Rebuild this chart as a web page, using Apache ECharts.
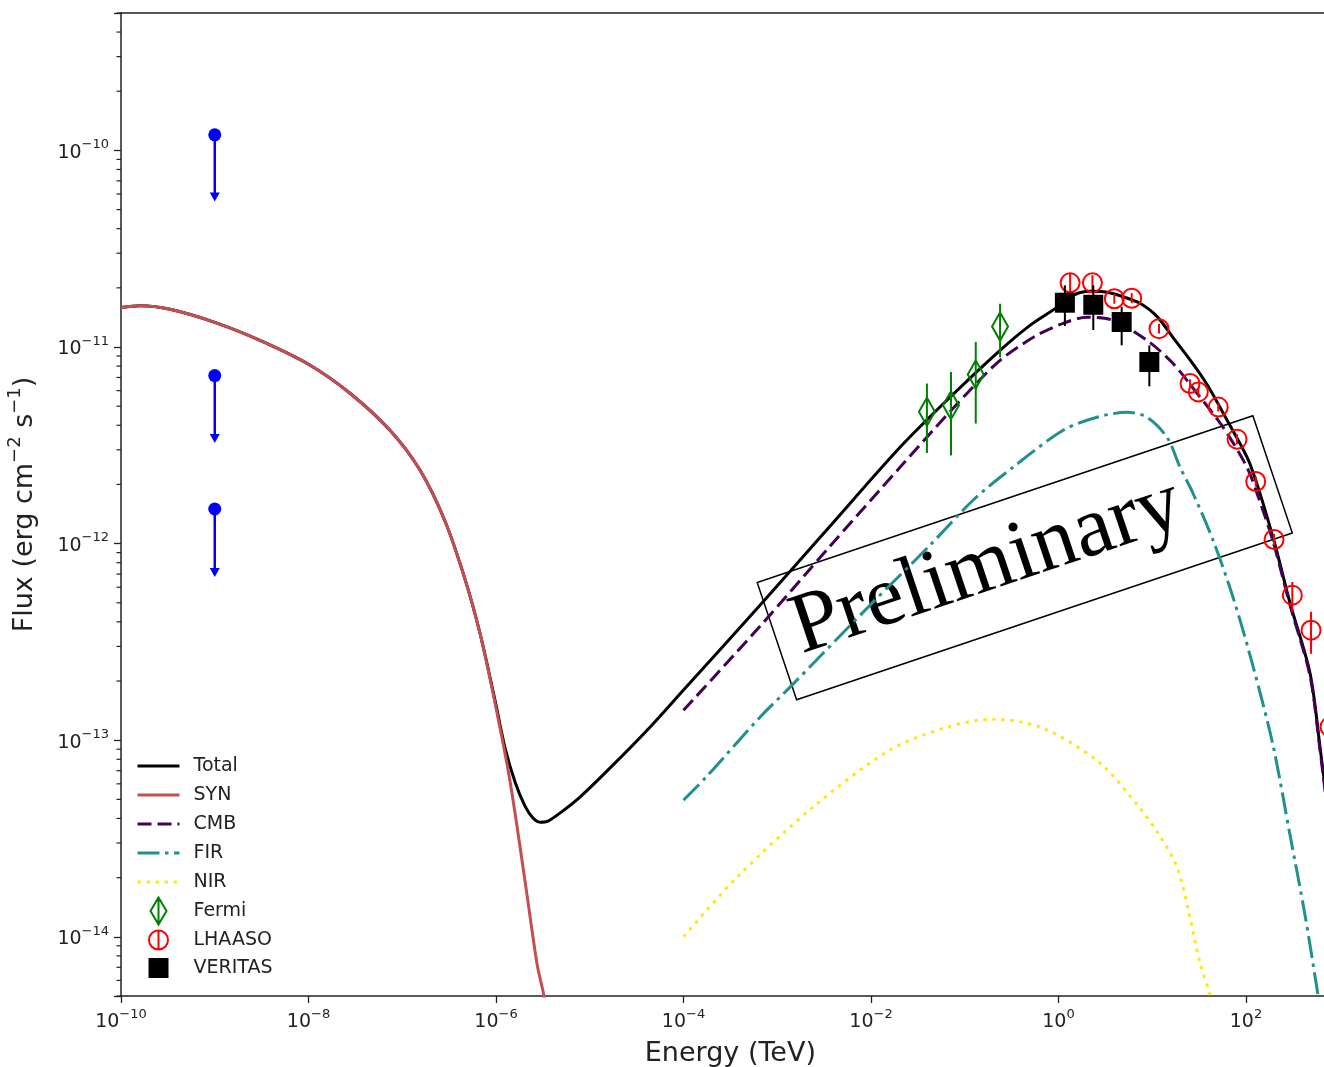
<!DOCTYPE html>
<html>
<head>
<meta charset="utf-8">
<script src="https://cdn.jsdelivr.net/npm/echarts@6/dist/echarts.min.js"></script>
<style>
  html, body { margin: 0; padding: 0; background: #ffffff; }
  #chart { width: 1324px; height: 1067px; }
</style>
</head>
<body>
<div id="chart"></div>
<script>
// ---- Model curves: [energy (TeV), E^2 dN/dE (erg cm^-2 s^-1)] ----
const synCurve = [
  [1e-10, 1.59e-11], [1.6e-10, 1.62e-11], [3.33e-10, 1.555e-11], [1e-9, 1.335e-11],
  [3.04e-9, 1.081e-11], [1e-8, 8.17e-12], [2.77e-8, 5.82e-12], [7.4e-8, 3.77e-12],
  [1.55e-7, 2.36e-12], [2.86e-7, 1.3e-12], [4.67e-7, 6.6e-13], [6.75e-7, 3.5e-13],
  [9.75e-7, 1.55e-13], [1.41e-6, 6.2e-14], [2.04e-6, 1.92e-14], [2.75e-6, 7.2e-15],
  [3.25e-6, 5.0e-15], [3.77e-6, 3.0e-15]
];
const totalCurve = [
  [1e-10, 1.59e-11], [1.6e-10, 1.62e-11], [3.33e-10, 1.555e-11], [1e-9, 1.335e-11],
  [3.04e-9, 1.081e-11], [1e-8, 8.17e-12], [2.77e-8, 5.82e-12], [7.4e-8, 3.77e-12],
  [1.55e-7, 2.36e-12], [2.86e-7, 1.3e-12], [4.67e-7, 6.6e-13], [6.75e-7, 3.5e-13],
  [9.75e-7, 1.6e-13], [1.25e-6, 9.12e-14], [1.6e-6, 6.12e-14], [2.04e-6, 4.62e-14],
  [2.48e-6, 4.02e-14], [2.95e-6, 3.83e-14], [3.59e-6, 3.88e-14], [4.81e-6, 4.26e-14],
  [7.87e-6, 5.14e-14], [1.64e-5, 7.21e-14], [4.39e-5, 1.165e-13], [1e-4, 1.8e-13],
  [6.55e-4, 4.86e-13], [3.65e-3, 1.226e-12], [0.0204, 3.09e-12], [0.0696, 5.55e-12],
  [0.238, 9.62e-12], [0.497, 1.289e-11], [0.964, 1.591e-11], [1.43, 1.832e-11],
  [2.17, 1.919e-11], [3.29, 1.897e-11], [5.12, 1.789e-11], [7.4, 1.668e-11],
  [11.2, 1.432e-11], [16.6, 1.12e-11], [25.3, 8.6e-12], [38.4, 6.45e-12],
  [62.7, 4.25e-12], [110, 2.55e-12], [194, 1.077e-12], [295, 4.98e-13],
  [482, 2.19e-13], [616, 9.22e-14], [787, 3.49e-14], [1000, 1.08e-14]
];
const cmbCurve = [
  [1e-4, 1.42e-13], [6.55e-4, 3.8e-13], [3.65e-3, 9.7e-13], [0.0204, 2.445e-12],
  [0.0459, 3.77e-12], [0.106, 5.82e-12], [0.238, 8.56e-12], [0.561, 1.133e-11],
  [1.12, 1.32e-11], [2.01, 1.416e-11], [3.81, 1.367e-11], [8.79, 1.081e-11],
  [16.6, 8.26e-12], [30.0, 5.82e-12], [56.9, 3.91e-12], [102.5, 2.445e-12],
  [131, 1.804e-12], [194, 1.028e-12], [295, 4.86e-13], [482, 2.12e-13],
  [616, 8.91e-14], [787, 3.37e-14], [1000, 1.05e-14]
];
const firCurve = [
  [1e-4, 4.96e-14], [1.74e-4, 6.49e-14], [6.55e-4, 1.31e-13], [1.37e-3, 1.862e-13],
  [0.01, 4.92e-13], [0.0426, 9.81e-13], [0.1225, 1.662e-12], [0.327, 2.445e-12],
  [1.12, 3.77e-12], [2.57, 4.39e-12], [5.38, 4.66e-12], [8.79, 4.39e-12],
  [14.4, 3.47e-12], [19.8, 2.445e-12], [27.2, 1.804e-12], [44.5, 1.04e-12],
  [72.7, 5.34e-13], [118.8, 2.38e-13], [194, 9.44e-14], [295, 3.29e-14],
  [426, 1.29e-14], [586, 5.06e-15], [696, 3.0e-15]
];
const nirCurve = [
  [1e-4, 1.0e-14], [3.72e-4, 2.01e-14], [2.41e-3, 4.57e-14], [0.0159, 8.91e-14],
  [0.0647, 1.165e-13], [0.2, 1.28e-13], [0.683, 1.152e-13], [2.77, 7.65e-14],
  [7.22, 4.57e-14], [11.5, 3.37e-14], [18.4, 2.26e-14], [24.7, 1.32e-14],
  [32.3, 7.36e-15], [41.3, 5.06e-15], [47.9, 3.36e-15]
];

// ---- Measurements: [energy, flux, flux low, flux high] ----
const fermiPoints = [
  [0.0395, 4.68e-12, 2.89e-12, 6.52e-12],
  [0.0713, 5.06e-12, 2.81e-12, 7.46e-12],
  [0.131, 7.24e-12, 4.08e-12, 1.06e-11],
  [0.238, 1.27e-11, 8.85e-12, 1.66e-11]
];
const lhaasoPoints = [
  [1.33, 2.12e-11, 1.90e-11, 2.37e-11],
  [2.30, 2.12e-11, 1.94e-11, 2.32e-11],
  [3.94, 1.76e-11, 1.66e-11, 1.87e-11],
  [6.04, 1.77e-11, 1.67e-11, 1.88e-11],
  [11.8, 1.24e-11, 1.17e-11, 1.31e-11],
  [25.3, 6.52e-12, 6.2e-12, 6.85e-12],
  [31.0, 5.91e-12, 5.6e-12, 6.2e-12],
  [50.6, 4.95e-12, 4.7e-12, 5.2e-12],
  [80.2, 3.40e-12, 3.2e-12, 3.6e-12],
  [127, 2.07e-12, 1.95e-12, 2.2e-12],
  [199, 1.05e-12, 0.98e-12, 1.12e-12],
  [312, 5.47e-13, 4.50e-13, 6.38e-13],
  [494, 3.63e-13, 2.75e-13, 4.50e-13],
  [787, 1.17e-13, 0.95e-13, 1.40e-13]
];
const veritasPoints = [
  [1.17, 1.68e-11, 1.28e-11, 2.06e-11],
  [2.35, 1.64e-11, 1.22e-11, 2.06e-11],
  [4.72, 1.34e-11, 1.02e-11, 1.60e-11],
  [9.31, 8.39e-12, 6.31e-12, 1.02e-11]
];
// Upper limits: [energy, flux, arrow tip]
const upperLimits = [
  [1e-9, 1.20e-10, 5.5e-11],
  [1e-9, 7.16e-12, 3.25e-12],
  [1e-9, 1.50e-12, 6.77e-13]
];

// ---- Axes ----
const xRange = [1e-10, 1e3];
const yRange = [5e-15, 5e-10];
const xTickExponents = [-10, -8, -6, -4, -2, 0, 2];
const yTickExponents = [-14, -13, -12, -11, -10];
const yMinorTicks = [];
for (let n = -15; n <= -10; n++) {
  for (let k = 2; k <= 9; k++) {
    const v = k * Math.pow(10, n);
    if (v >= yRange[0] && v <= yRange[1] * 1.0001) yMinorTicks.push([xRange[0], v]);
  }
}

const FONT = '"DejaVu Sans", sans-serif';
const INK = '#222222';
const tickRich = {
  b: { fontSize: 19, fontFamily: FONT, color: INK, lineHeight: 24, verticalAlign: 'bottom' },
  s: { fontSize: 13, fontFamily: FONT, color: INK, lineHeight: 13, verticalAlign: 'top' }
};
function powerLabel(shown) {
  return function (value) {
    const lg = Math.log10(value);
    const exp = Math.round(lg);
    if (Math.abs(lg - exp) > 1e-6 || shown.indexOf(exp) < 0) return '';
    return '{b|10}{s|' + (exp < 0 ? '\u2212' : '') + Math.abs(exp) + '}';
  };
}

// Error bar with a marker on top
function errorBarRenderer(color, markerFn) {
  return function (params, api) {
    const e = api.value(0);
    const c = api.coord([e, api.value(1)]);
    const lo = api.coord([e, api.value(2)]);
    const hi = api.coord([e, api.value(3)]);
    return {
      type: 'group',
      children: [
        { type: 'line', shape: { x1: c[0], y1: lo[1], x2: c[0], y2: hi[1] },
          style: { stroke: color, lineWidth: 2 } },
        markerFn(c)
      ]
    };
  };
}
const diamondMarker = c => ({
  type: 'polygon',
  shape: { points: [[c[0], c[1] - 14], [c[0] + 8, c[1]], [c[0], c[1] + 14], [c[0] - 8, c[1]]] },
  style: { fill: 'none', stroke: '#008000', lineWidth: 2 }
});
const circleMarker = c => ({
  type: 'circle', shape: { cx: c[0], cy: c[1], r: 9.5 },
  style: { fill: 'none', stroke: '#ff0000', lineWidth: 2 }
});
const squareMarker = c => ({
  type: 'rect', shape: { x: c[0] - 10, y: c[1] - 10, width: 20, height: 20 },
  style: { fill: '#000000' }
});

function upperLimitRenderer(params, api) {
  const e = api.value(0);
  const top = api.coord([e, api.value(1)]);
  const tip = api.coord([e, api.value(2)]);
  return {
    type: 'group',
    children: [
      { type: 'line', shape: { x1: top[0], y1: top[1], x2: tip[0], y2: tip[1] - 4 },
        style: { stroke: '#0000ff', lineWidth: 2.5 } },
      { type: 'polygon', shape: { points: [[tip[0] - 5, tip[1] - 9], [tip[0] + 5, tip[1] - 9], [tip[0], tip[1]]] },
        style: { fill: '#0000ff' } },
      { type: 'circle', shape: { cx: top[0], cy: top[1], r: 6.5 }, style: { fill: '#0000ff' } }
    ]
  };
}

function minorTickRenderer(params, api) {
  const p = api.coord([api.value(0), api.value(1)]);
  return { type: 'line', shape: { x1: p[0] - 4.5, y1: p[1], x2: p[0], y2: p[1] },
           style: { stroke: INK, lineWidth: 1.2 } };
}

const curveStyles = {
  Total: { color: '#000000', type: 'solid' },
  SYN: { color: '#c44e52', type: 'solid' },
  CMB: { color: '#440154', type: [14, 6] },
  FIR: { color: '#21918c', type: [22, 5.5, 3.5, 5.5] },
  NIR: { color: '#fde725', type: [3.5, 5.5] }
};
function lineSeries(name, data, z) {
  const st = curveStyles[name];
  return {
    name, type: 'line', data, showSymbol: false, symbol: 'none', smooth: 0.3,
    lineStyle: { color: st.color, width: 3, type: st.type, cap: 'butt' },
    itemStyle: { color: st.color }, z, clip: true, silent: true
  };
}
function lineLegend(name) {
  const st = curveStyles[name];
  return { name, itemStyle: { opacity: 0 }, lineStyle: { color: st.color, width: 3, type: st.type } };
}

// Legend icons drawn in a 42 x 27 box
const fermiIcon = 'path://M0,0L0,0M42,27L42,27M21,0L29,13.5L21,27L13,13.5ZM21,0L21,27';
const lhaasoIcon = 'path://M0,0L0,0M42,27L42,27M11.5,13.5A9.5,9.5 0 1,1 30.5,13.5A9.5,9.5 0 1,1 11.5,13.5ZM21,4L21,23';
const veritasIcon = 'path://M0,0L0,0M42,27L42,27M11,3.5L31,3.5L31,23.5L11,23.5Z';

const chart = echarts.init(document.getElementById('chart'), null, { renderer: 'canvas' });
chart.setOption({
  animation: false,
  backgroundColor: '#ffffff',
  grid: { left: 121, top: 13, width: 1218.75, height: 983, outerBoundsMode: 'none', containLabel: false },
  xAxis: [{
    type: 'log', logBase: 10, min: xRange[0], max: xRange[1], interval: 2,
    name: 'Energy (TeV)', nameLocation: 'middle', nameGap: 44,
    nameTextStyle: { fontFamily: FONT, fontSize: 27, color: INK },
    axisLine: { show: true, onZero: false, lineStyle: { color: INK, width: 1.5 } },
    axisTick: { show: true, inside: false, length: 7, lineStyle: { color: INK, width: 1.3 } },
    axisLabel: { margin: 12, formatter: powerLabel(xTickExponents), rich: tickRich },
    minorTick: { show: false }, splitLine: { show: false }
  }, {
    type: 'log', logBase: 10, min: xRange[0], max: xRange[1], position: 'top',
    axisLine: { show: true, onZero: false, lineStyle: { color: INK, width: 1.5 } },
    axisTick: { show: false }, axisLabel: { show: false }, splitLine: { show: false }
  }],
  yAxis: {
    type: 'log', logBase: 10, min: yRange[0], max: yRange[1],
    name: '{t|Flux (erg cm}{s|\u22122}{t| s}{s|\u22121}{t|)}',
    nameLocation: 'middle', nameGap: 83, nameRotate: 90,
    nameTextStyle: {
      rich: {
        t: { fontFamily: FONT, fontSize: 27, color: INK, lineHeight: 32, verticalAlign: 'bottom' },
        s: { fontFamily: FONT, fontSize: 18, color: INK, lineHeight: 19, verticalAlign: 'top' }
      }
    },
    axisLine: { show: true, onZero: false, lineStyle: { color: INK, width: 1.5 } },
    axisTick: { show: true, inside: false, length: 7, lineStyle: { color: INK, width: 1.3 } },
    axisLabel: { margin: 12, formatter: powerLabel(yTickExponents), rich: tickRich },
    minorTick: { show: false }, splitLine: { show: false }
  },
  legend: {
    orient: 'vertical', left: 136, top: 751.5, padding: 0,
    itemWidth: 42, itemHeight: 36.25, itemGap: 0,
    selectedMode: false, symbolKeepAspect: true,
    textStyle: { fontFamily: FONT, fontSize: 19, color: INK, padding: [0, 0, 0, 9] },
    data: [
      lineLegend('Total'), lineLegend('SYN'), lineLegend('CMB'), lineLegend('FIR'), lineLegend('NIR'),
      { name: 'Fermi', icon: fermiIcon, itemStyle: { color: 'rgba(0,0,0,0)', borderColor: '#008000', borderWidth: 2 } },
      { name: 'LHAASO', icon: lhaasoIcon, itemStyle: { color: 'rgba(0,0,0,0)', borderColor: '#ff0000', borderWidth: 2 } },
      { name: 'VERITAS', icon: veritasIcon, itemStyle: { color: '#000000', borderWidth: 0 } }
    ]
  },
  series: [
    lineSeries('Total', totalCurve, 2),
    lineSeries('SYN', synCurve, 3),
    lineSeries('CMB', cmbCurve, 4),
    lineSeries('FIR', firCurve, 4),
    lineSeries('NIR', nirCurve, 4),
    { name: 'Fermi', type: 'custom', data: fermiPoints, renderItem: errorBarRenderer('#008000', diamondMarker),
      itemStyle: { color: '#008000' }, z: 6, silent: true },
    { name: 'LHAASO', type: 'custom', data: lhaasoPoints, renderItem: errorBarRenderer('#ff0000', circleMarker),
      itemStyle: { color: '#ff0000' }, z: 6, silent: true },
    { name: 'VERITAS', type: 'custom', data: veritasPoints, renderItem: errorBarRenderer('#000000', squareMarker),
      itemStyle: { color: '#000000' }, z: 6, silent: true },
    { name: 'upper limits', type: 'custom', data: upperLimits, renderItem: upperLimitRenderer, z: 6, silent: true },
    { name: 'minor ticks', type: 'custom', data: yMinorTicks, renderItem: minorTickRenderer, z: 1, silent: true }
  ],
  graphic: [{
    type: 'group', x: 1024.75, y: 557.75, rotation: 18.6 * Math.PI / 180, z: 100, silent: true,
    children: [
      { type: 'rect', shape: { x: -261.5, y: -61.8, width: 523, height: 123.6 },
        style: { fill: 'none', stroke: '#000000', lineWidth: 1.5 } },
      { type: 'text', x: -242, y: -3,
        style: { text: 'Preliminary', fontFamily: '"Liberation Serif", serif', fontSize: 86,
                 fill: '#000000', align: 'left', verticalAlign: 'middle' } }
    ]
  }]
});
</script>
</body>
</html>
